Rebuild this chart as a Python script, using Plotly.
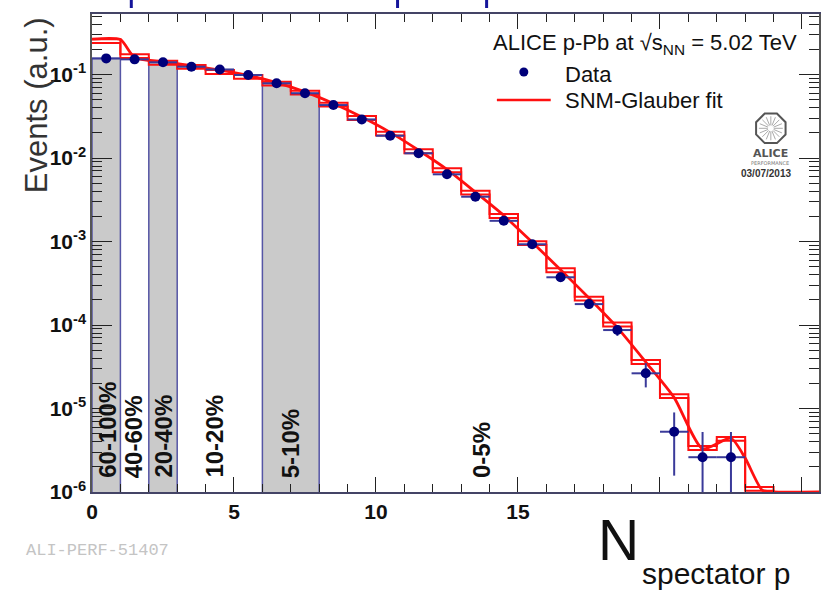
import math
import plotly.graph_objects as go

# ---- measured distribution (bin centres, normalised counts, stat. errors) ----
data_x = [0.5, 1.5, 2.5, 3.5, 4.5, 5.5, 6.5, 7.5, 8.5, 9.5, 10.5, 11.5,
          12.5, 13.5, 14.5, 15.5, 16.5, 17.5, 18.5, 19.5, 20.5, 21.5, 22.5]
data_y = [0.156, 0.152, 0.140, 0.124, 0.115, 0.0986, 0.0785, 0.0596, 0.0431,
          0.0290, 0.0185, 0.0114, 0.00638, 0.00344, 0.00177, 9.27e-4, 3.73e-4,
          1.78e-4, 8.7e-5, 2.64e-5, 5.27e-6, 2.61e-6, 2.61e-6]
data_err = [6e-4, 6e-4, 6e-4, 6e-4, 5.5e-4, 5e-4, 4.5e-4, 4e-4, 3.4e-4, 2.8e-4,
            2.2e-4, 1.7e-4, 1.3e-4, 9.5e-5, 6.8e-5, 4.9e-5, 3.1e-5, 2.2e-5,
            1.3e-5, 8.5e-6, 3.7e-6, 2.61e-6, 2.61e-6]

# ---- SNM-Glauber fit, histogrammed (edges 0..26) ----
fit_edges = [0, 1, 2, 3, 4, 5, 6, 7, 8, 9, 10, 11, 12, 13, 14, 15, 16, 17,
             18, 19, 20, 21, 22, 23, 24, 25, 26]
fit_hist = [0.265, 0.175, 0.146, 0.130, 0.113, 0.0986, 0.082, 0.064, 0.0459,
            0.0318, 0.0207, 0.0127, 0.00753, 0.00406, 0.00213, 0.00101,
            4.77e-4, 2.18e-4, 1.07e-4, 3.8e-5, 1.48e-5, 3.55e-6, 4.56e-6,
            1.15e-6, 1.0e-6, 1.0e-6]

# ---- SNM-Glauber fit, smooth curve ----
curve_x = [0, 1.0, 1.5, 2.5, 3.5, 4.5, 5.5, 6.5, 7.5, 8.5, 9.5, 10.5, 11.5,
           12.5, 13.5, 14.5, 15.5, 16.5, 17.5, 18.5, 19.5, 20.5, 21.5, 22.5,
           23.0, 23.6, 24.0, 25.6]
curve_y = [0.265, 0.262, 0.160, 0.142, 0.128, 0.113, 0.0975, 0.080, 0.062,
           0.045, 0.031, 0.0203, 0.0124, 0.0073, 0.0039, 0.00205, 9.8e-4,
           4.6e-4, 2.1e-4, 9.3e-5, 3.6e-5, 1.35e-5, 3.3e-6, 4.4e-6, 2.55e-6,
           1.05e-6, 1.0e-6, 1.0e-6]

# ---- centrality classes: label, label x position, shaded bin range ----
class_labels = ["60-100%", "40-60%", "20-40%", "10-20%", "5-10%", "0-5%"]
class_label_x = [0.52, 1.47, 2.5, 4.3, 7.0, 13.7]
shaded_ranges = [(0, 1), (2, 3), (6, 8)]

y_ticks = [1e-6, 1e-5, 1e-4, 1e-3, 1e-2, 1e-1]
y_ticktext = ["10<sup>-6</sup>", "10<sup>-5</sup>", "10<sup>-4</sup>",
              "10<sup>-3</sup>", "10<sup>-2</sup>", "10<sup>-1</sup>"]
x_ticks = [0, 5, 10, 15, 20, 25]
x_ticktext = ["0", "5", "10", "15", "", ""]

X_RANGE = [0, 25.6]
Y_RANGE = [-6, -0.275]

# ---- styling ----
W, H = 824, 591
L, R, T, B = 92, 821, 14, 492
NAVY = "#00007a"
OUTLINE = "#5555a5"
FIT_RED = "#ff1010"
GAP = 0.9   # second outline of the fit histogram
FONT = "Liberation Sans, Arial, sans-serif"
FLOOR = 1e-7
TICK = "#222222"


def px(x):
    return (x - L) / (R - L)


def py(y):
    return (B - y) / (B - T)


def step_path(edges, values):
    xs, ys = [], []
    for i, v in enumerate(values):
        xs += [edges[i], edges[i + 1]]
        ys += [v, v]
    return xs, ys


fig = go.Figure()

# shaded centrality classes, outlined by the data histogram
for a, b in shaded_ranges:
    xs, ys = [a], [FLOOR]
    for cx, cy in zip(data_x, data_y):
        if a < cx < b:
            xs += [cx - 0.5, cx + 0.5]
            ys += [cy, cy]
    xs += [b, a]
    ys += [FLOOR, FLOOR]
    fig.add_trace(go.Scatter(x=xs, y=ys, mode="lines", fill="toself",
                             fillcolor="#cacaca",
                             line=dict(color=OUTLINE, width=1.5),
                             hoverinfo="skip", showlegend=False))

# fit histogram (double outline)
hx, hy = step_path(fit_edges, fit_hist)
fig.add_trace(go.Scatter(x=hx, y=hy, mode="lines",
                         line=dict(color=FIT_RED, width=2),
                         hoverinfo="skip", showlegend=False))
fig.add_trace(go.Scatter(x=hx, y=[v * GAP for v in hy], mode="lines",
                         line=dict(color=FIT_RED, width=2),
                         hoverinfo="skip", showlegend=False))

# fit curve
fig.add_trace(go.Scatter(x=curve_x, y=curve_y, mode="lines",
                         line=dict(color=FIT_RED, width=2.8, shape="spline",
                                   smoothing=0.6),
                         name="SNM-Glauber fit", showlegend=False))

# data points
fig.add_trace(go.Scatter(
    x=data_x, y=data_y, mode="markers",
    marker=dict(color=NAVY, size=10),
    error_x=dict(type="constant", value=0.5, color="#3a3a9a", thickness=2, width=0),
    error_y=dict(type="data", array=data_err, color="#3a3a9a", thickness=2, width=0),
    name="Data", showlegend=False))

annotations = []
for lab, lx in zip(class_labels, class_label_x):
    annotations.append(dict(x=lx, y=py(480), xref="x", yref="paper",
                            text=lab, textangle=-90, showarrow=False,
                            xanchor="center", yanchor="bottom",
                            font=dict(family=FONT, size=24, color="#111111",
                                      weight="bold")))

# y axis title
annotations.append(dict(x=px(37), y=py(105), xref="paper", yref="paper",
                        text="Events (a.u.)", textangle=-90, showarrow=False,
                        xanchor="center", yanchor="middle",
                        font=dict(family=FONT, size=31, color="#333333")))

# header and legend
annotations.append(dict(x=px(801), y=py(44), xref="paper", yref="paper",
                        text="ALICE p-Pb at √s<sub>NN</sub> = 5.02 TeV",
                        showarrow=False, xanchor="right", yanchor="middle",
                        font=dict(family=FONT, size=22, color="#111111")))
annotations.append(dict(x=px(564), y=py(74), xref="paper", yref="paper",
                        text="Data", showarrow=False, xanchor="left",
                        yanchor="middle",
                        font=dict(family=FONT, size=22, color="#111111")))
annotations.append(dict(x=px(564), y=py(101), xref="paper", yref="paper",
                        text="SNM-Glauber fit", showarrow=False,
                        xanchor="left", yanchor="middle",
                        font=dict(family=FONT, size=22, color="#111111")))

# ALICE performance badge
annotations.append(dict(x=px(772), y=py(153), xref="paper", yref="paper",
                        text="ALICE", showarrow=False, xanchor="center",
                        yanchor="middle",
                        font=dict(family="DejaVu Sans", size=11,
                                  color="#555555", weight="bold")))
annotations.append(dict(x=px(772), y=py(163), xref="paper", yref="paper",
                        text="PERFORMANCE", showarrow=False, xanchor="center",
                        yanchor="middle",
                        font=dict(family="DejaVu Sans", size=5,
                                  color="#777777")))
annotations.append(dict(x=px(768), y=py(173), xref="paper", yref="paper",
                        text="03/07/2013", showarrow=False, xanchor="center",
                        yanchor="middle",
                        font=dict(family=FONT, size=10, color="#333333",
                                  weight="bold")))

# footer id and axis label
annotations.append(dict(x=px(24), y=py(550), xref="paper", yref="paper",
                        text="ALI-PERF-51407", showarrow=False,
                        xanchor="left", yanchor="middle",
                        font=dict(family="Liberation Mono, monospace",
                                  size=17, color="#c4c4c4")))
annotations.append(dict(x=px(620), y=py(540), xref="paper", yref="paper",
                        text="N", showarrow=False, xanchor="center",
                        yanchor="middle",
                        font=dict(family=FONT, size=57, color="#111111")))
annotations.append(dict(x=px(642), y=py(573), xref="paper", yref="paper",
                        text="spectator p", showarrow=False, xanchor="left",
                        yanchor="middle",
                        font=dict(family=FONT, size=30, color="#111111")))

shapes = []
# legend glyphs
shapes.append(dict(type="circle", xref="paper", yref="paper",
                   x0=px(520.5), x1=px(529.5), y0=py(76.5), y1=py(67.5),
                   fillcolor=NAVY, line=dict(width=0)))
shapes.append(dict(type="line", xref="paper", yref="paper",
                   x0=px(498), x1=px(552), y0=py(100), y1=py(100),
                   line=dict(color=FIT_RED, width=2.5)))

# badge octagon with spokes
cx, cy, rad = 772.7, 128.3, 16
pts = []
for k in range(8):
    ang = math.radians(22.5 + 45 * k)
    pts.append((px(cx + rad * math.cos(ang)), py(cy + rad * math.sin(ang))))
path = "M " + " L ".join(f"{a:.5f},{b:.5f}" for a, b in pts) + " Z"
shapes.append(dict(type="path", xref="paper", yref="paper", path=path,
                   line=dict(color="#555555", width=2)))
for k in range(16):
    ang = math.radians(22.5 * k)
    shapes.append(dict(type="line", xref="paper", yref="paper",
                       x0=px(cx + 3 * math.cos(ang)), y0=py(cy + 3 * math.sin(ang)),
                       x1=px(cx + 12 * math.cos(ang)), y1=py(cy + 12 * math.sin(ang)),
                       line=dict(color="#aaaaaa", width=1)))

# descenders of the clipped headline above the frame
for bx in (131.4, 398.4, 487.7):
    shapes.append(dict(type="rect", xref="paper", yref="paper",
                       x0=px(bx - 1.5), x1=px(bx + 1.5), y0=py(8), y1=py(-2),
                       fillcolor="#14149a", line=dict(width=0)))

tickfont = dict(family=FONT, size=21, color="#111111", weight="bold")

fig.update_layout(
    width=W, height=H, autosize=False,
    margin=dict(l=L, r=W - R, t=T, b=H - B),
    paper_bgcolor="white", plot_bgcolor="white",
    showlegend=False,
    annotations=annotations, shapes=shapes,
    xaxis=dict(range=X_RANGE, tickvals=x_ticks, ticktext=x_ticktext,
               ticks="inside", ticklen=15, tickwidth=1, tickcolor=TICK,
               minor=dict(dtick=1, ticks="inside", ticklen=8,
                          tickcolor=TICK, tickwidth=1),
               showline=True, linecolor="#444466", linewidth=1.5,
               mirror="allticks", showgrid=False, zeroline=False,
               tickfont=tickfont),
    yaxis=dict(type="log", range=Y_RANGE, tickvals=y_ticks,
               ticktext=y_ticktext,
               ticks="inside", ticklen=20, tickwidth=1, tickcolor=TICK,
               minor=dict(dtick="D1", ticks="inside", ticklen=10,
                          tickcolor=TICK, tickwidth=1),
               showline=True, linecolor="#555555", linewidth=1.5,
               mirror="allticks", showgrid=False, zeroline=False,
               tickfont=tickfont),
)

fig.write_html("out.html")
